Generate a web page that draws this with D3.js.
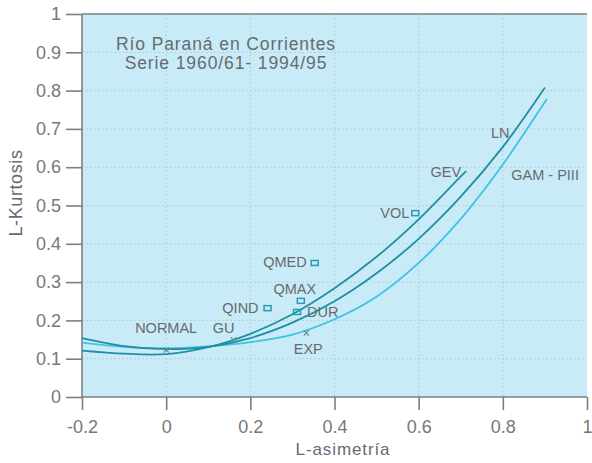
<!DOCTYPE html>
<html>
<head>
<meta charset="utf-8">
<script src="https://cdn.jsdelivr.net/npm/d3@7"></script>
<style>
  html, body { margin: 0; padding: 0; background: #ffffff; }
  svg { display: block; font-family: "Liberation Sans", Arial, Helvetica, sans-serif; }
</style>
</head>
<body>
<svg id="chart" width="592" height="463"></svg>
<script>
// ---------- data ----------
const titleLines = ["Río Paraná en Corrientes", "Serie 1960/61- 1994/95"];
const xLabel = "L-asimetría";
const yLabel = "L-Kurtosis";

const xTicks = [-0.2, 0, 0.2, 0.4, 0.6, 0.8, 1];
const xTickLabels = ["-0.2", "0", "0.2", "0.4", "0.6", "0.8", "1"];
const yTicks = [0, 0.1, 0.2, 0.3, 0.4, 0.5, 0.6, 0.7, 0.8, 0.9, 1];
const yTickLabels = ["0", "0.1", "0.2", "0.3", "0.4", "0.5", "0.6", "0.7", "0.8", "0.9", "1"];

// theoretical curves (L-skewness -> L-kurtosis)
const gevSkew = [-0.2, -0.1, 0, 0.1, 0.2, 0.3, 0.4, 0.5, 0.6, 0.7, 0.713];
const gevKurt = [0.121, 0.113, 0.112, 0.130, 0.165, 0.216, 0.284, 0.366, 0.464, 0.576, 0.590];

const lnSkew = [-0.2, -0.1, 0, 0.1, 0.2, 0.3, 0.4, 0.5, 0.6, 0.7, 0.8, 0.9];
const lnKurt = [0.154, 0.133, 0.125, 0.131, 0.154, 0.194, 0.250, 0.323, 0.413, 0.523, 0.653, 0.808];

const gamSkew = [-0.2, -0.1, 0, 0.1, 0.2, 0.3, 0.4, 0.5, 0.6, 0.7, 0.8, 0.9, 0.905];
const gamKurt = [0.142, 0.131, 0.127, 0.132, 0.143, 0.163, 0.203, 0.262, 0.350, 0.465, 0.607, 0.770, 0.778];

const curveNames = ["GEV", "LN", "GAM - PIII"];
const curveLabelSkew = [0.628, 0.772, 0.820];
const curveLabelKurt = [0.574, 0.676, 0.567];

// theoretical distribution points (x markers)
const distNames = ["NORMAL", "GU", "EXP"];
const distSkew = [0.000, 0.160, 0.333];
const distKurt = [0.123, 0.149, 0.167];

// sample points (square markers)
const sampleNames = ["QIND", "QMED", "QMAX", "DUR", "VOL"];
const sampleSkew = [0.241, 0.353, 0.320, 0.311, 0.592];
const sampleKurt = [0.232, 0.350, 0.251, 0.222, 0.480];

// ---------- layout / style ----------
const W = 592, H = 463;
const x = d3.scaleLinear().domain([-0.2, 1]).range([82, 587]);
const y = d3.scaleLinear().domain([0, 1]).range([397, 14]);

const bg = "#c8ebf7";
const axisCol = "#7a7f82";
const textCol = "#666b6e";
const darkLine = "#1f8fa3";
const lightLine = "#3ec3e3";
const squareCol = "#2a9bb0";

// label offsets (px) for point labels
const distLabelStyle = {
  "NORMAL": {dx: 0, dy: -17, anchor: "middle"},
  "GU": {dx: 1, dy: -7, anchor: "end"},
  "EXP": {dx: 2, dy: 21, anchor: "middle"}
};
const sampleLabelStyle = {
  "QIND": {dx: -9, dy: 5, anchor: "end"},
  "QMED": {dx: -8, dy: 4, anchor: "end"},
  "QMAX": {dx: -6, dy: -7, anchor: "middle"},
  "DUR": {dx: 10, dy: 5, anchor: "start"},
  "VOL": {dx: -6, dy: 5, anchor: "end"}
};

const svg = d3.select("#chart");
svg.append("rect").attr("width", W).attr("height", H).attr("fill", "#ffffff");

// plot background
svg.append("rect")
  .attr("x", x(-0.2)).attr("y", y(1))
  .attr("width", x(1) - x(-0.2)).attr("height", y(0) - y(1))
  .attr("fill", bg);

// grid
const grid = svg.append("g").attr("stroke", "#a7c7d1").attr("stroke-width", 0.8)
  .attr("stroke-dasharray", "2,2").attr("opacity", 0.8);
grid.selectAll("line.gx").data(xTicks.slice(1, -1)).join("line")
  .attr("x1", d => x(d)).attr("x2", d => x(d)).attr("y1", y(1)).attr("y2", y(0));
grid.selectAll("line.gy").data(yTicks.slice(1, -1)).join("line")
  .attr("x1", x(-0.2)).attr("x2", x(1)).attr("y1", d => y(d)).attr("y2", d => y(d));

// axes
const yAxis = d3.axisLeft(y).tickValues(yTicks).tickFormat((d, i) => yTickLabels[i])
  .tickSize(16).tickPadding(5);
const gy = svg.append("g").attr("transform", `translate(${x(-0.2)},0)`).call(yAxis);
const xAxis = d3.axisBottom(x).tickValues(xTicks).tickFormat((d, i) => xTickLabels[i])
  .tickSize(13).tickPadding(10);
const gx = svg.append("g").attr("transform", `translate(0,${y(0)})`).call(xAxis);
[gx, gy].forEach(g => {
  g.select(".domain").attr("stroke", axisCol).attr("stroke-width", 1.6);
  g.selectAll(".tick line").attr("stroke", axisCol).attr("stroke-width", 1.6);
  g.selectAll(".tick text").attr("fill", "#76797b").attr("font-size", 18)
    .attr("font-family", "'Liberation Sans', Arial, sans-serif");
});
gx.select(".domain").attr("d", `M${x(-0.2)},0H${x(1)}`);
gy.select(".domain").attr("d", `M0,${y(0)}V${y(1)}`);
// top border line
svg.append("line").attr("x1", x(-0.2)).attr("x2", x(1)).attr("y1", y(1)).attr("y2", y(1))
  .attr("stroke", axisCol).attr("stroke-width", 1.6);

// axis titles
svg.append("text").attr("x", 343).attr("y", 455).attr("text-anchor", "middle")
  .attr("fill", textCol).attr("font-size", 17).attr("letter-spacing", 0.9).text(xLabel);
svg.append("text").attr("transform", "translate(22,193) rotate(-90)").attr("text-anchor", "middle")
  .attr("fill", textCol).attr("font-size", 18).attr("letter-spacing", 0.6).text(yLabel);

// chart title
svg.append("g").selectAll("text").data(titleLines).join("text")
  .attr("x", 226).attr("y", (d, i) => 50 + i * 19)
  .attr("text-anchor", "middle").attr("fill", textCol)
  .attr("font-size", 17.5).attr("letter-spacing", 0.9).text(d => d);

// curves
const line = d3.line().x(d => x(d[0])).y(d => y(d[1])).curve(d3.curveCatmullRom.alpha(0.5));
const curves = [
  {skew: gamSkew, kurt: gamKurt, color: lightLine},
  {skew: lnSkew, kurt: lnKurt, color: darkLine},
  {skew: gevSkew, kurt: gevKurt, color: darkLine}
];
svg.append("g").selectAll("path").data(curves).join("path")
  .attr("d", c => line(c.skew.map((s, i) => [s, c.kurt[i]])))
  .attr("fill", "none").attr("stroke", c => c.color).attr("stroke-width", 1.8);

// curve labels
svg.append("g").selectAll("text").data(curveNames).join("text")
  .attr("x", (d, i) => x(curveLabelSkew[i])).attr("y", (d, i) => y(curveLabelKurt[i]))
  .attr("fill", textCol).attr("font-size", 14.5).text(d => d);

// distribution x markers
const dist = distNames.map((n, i) => ({name: n, s: distSkew[i], k: distKurt[i]}));
const gd = svg.append("g");
gd.selectAll("path").data(dist).join("path")
  .attr("d", d => {
    const cx = x(d.s), cy = y(d.k), r = 2.6;
    return `M${cx - r},${cy - r}L${cx + r},${cy + r}M${cx - r},${cy + r}L${cx + r},${cy - r}`;
  })
  .attr("stroke", "#5c8a96").attr("stroke-width", 1.1);
gd.selectAll("text").data(dist).join("text")
  .attr("x", d => x(d.s) + distLabelStyle[d.name].dx)
  .attr("y", d => y(d.k) + distLabelStyle[d.name].dy)
  .attr("text-anchor", d => distLabelStyle[d.name].anchor)
  .attr("fill", textCol).attr("font-size", 14.5).text(d => d.name);

// sample squares
const samples = sampleNames.map((n, i) => ({name: n, s: sampleSkew[i], k: sampleKurt[i]}));
const gs = svg.append("g");
gs.selectAll("rect").data(samples).join("rect")
  .attr("x", d => x(d.s) - 3.5).attr("y", d => y(d.k) - 2.5)
  .attr("width", 7).attr("height", 5)
  .attr("fill", "none").attr("stroke", squareCol).attr("stroke-width", 1.5);
gs.selectAll("text").data(samples).join("text")
  .attr("x", d => x(d.s) + sampleLabelStyle[d.name].dx)
  .attr("y", d => y(d.k) + sampleLabelStyle[d.name].dy)
  .attr("text-anchor", d => sampleLabelStyle[d.name].anchor)
  .attr("fill", textCol).attr("font-size", 14.5).text(d => d.name);
</script>
</body>
</html>
